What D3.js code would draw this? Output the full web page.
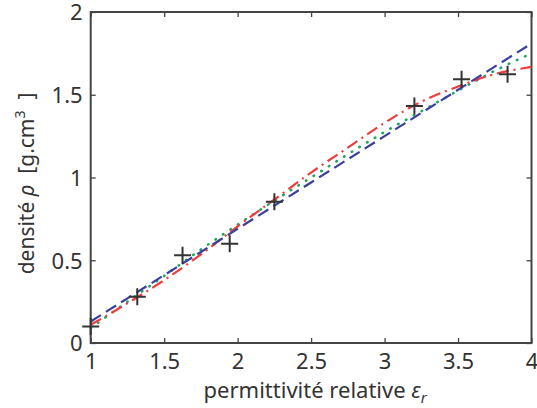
<!DOCTYPE html>
<html>
<head>
<meta charset="utf-8">
<script src="https://cdn.jsdelivr.net/npm/d3@7"></script>
<style>
  body { margin: 0; background: #fff; }
  text { font-family: "Noto Sans", sans-serif; fill: #333; white-space: pre; }
</style>
</head>
<body>
<div id="chart"></div>
<script>
// measured points (crosses)
var measX = [1.0, 1.317, 1.625, 1.946, 2.25, 3.203, 3.524, 3.837];
var measY = [0.10, 0.28, 0.53, 0.60, 0.854, 1.432, 1.593, 1.624];

// fitted curves, read at these permittivities
var fitX = [1, 1.25, 1.5, 1.75, 2, 2.25, 2.5, 2.75, 3, 3.25, 3.5, 3.75, 4];
var blueY = [0.13, 0.27, 0.41, 0.55, 0.69, 0.83, 0.97, 1.11, 1.25, 1.39, 1.53, 1.67, 1.81];
var redY = [0.11, 0.24, 0.38, 0.535, 0.705, 0.867, 1.03, 1.18, 1.33, 1.458, 1.55, 1.625, 1.668];
var greenY = [0.09, 0.25, 0.405, 0.565, 0.715, 0.86, 1.0, 1.14, 1.275, 1.40, 1.525, 1.645, 1.75];

var xTicks = [1, 1.5, 2, 2.5, 3, 3.5, 4];
var yTicks = [0, 0.5, 1, 1.5, 2];

var margin = { top: 12, right: 5.5, bottom: 65, left: 90.7 },
  width = 537 - margin.left - margin.right,
  height = 408 - margin.top - margin.bottom;

var svg = d3
  .select("#chart")
  .append("svg")
  .attr("width", 537)
  .attr("height", 408)
  .append("g")
  .attr("transform", "translate(" + margin.left + "," + margin.top + ")");

var x = d3.scaleLinear().domain([1, 4]).range([0, width]);
var y = d3.scaleLinear().domain([0, 2]).range([height, 0]);

function fmt(d) { return d3.format("")(d); }

var axColor = "#444";

var gx = svg.append("g")
  .attr("transform", "translate(0," + height + ")")
  .call(d3.axisBottom(x).tickValues(xTicks).tickFormat(fmt).tickSize(-5).tickSizeOuter(0).tickPadding(10));
var gy = svg.append("g")
  .call(d3.axisLeft(y).tickValues(yTicks).tickFormat(fmt).tickSize(-5).tickSizeOuter(0).tickPadding(8));
var gt = svg.append("g")
  .call(d3.axisTop(x).tickValues(xTicks).tickFormat("").tickSize(-5).tickSizeOuter(0));
var gr = svg.append("g")
  .attr("transform", "translate(" + width + ",0)")
  .call(d3.axisRight(y).tickValues(yTicks).tickFormat("").tickSize(-5).tickSizeOuter(0));

[gx, gy, gt, gr].forEach(function(g) {
  g.select(".domain").remove();
  g.selectAll("line").attr("stroke", axColor).attr("stroke-width", 1.3);
  g.selectAll("text").attr("font-size", 22).attr("fill", "#333")
    .style("font-family", "'Noto Sans', sans-serif");
});
gy.selectAll("text").attr("dy", "0.36em");

svg.append("rect")
  .attr("width", width)
  .attr("height", height)
  .attr("fill", "none")
  .attr("stroke", axColor)
  .attr("stroke-width", 2);

var line = function(ys) {
  return d3.line()
    .curve(d3.curveMonotoneX)
    .x(function(d, i) { return x(fitX[i]); })
    .y(function(d) { return y(d); })(ys);
};

var series = [
  { ys: greenY, color: "#1aa860", dash: "0.5,8.5", cap: "round", w: 2.6 },
  { ys: redY, color: "#ee3b3b", dash: "12,5,2,5", cap: "butt", w: 2.2 },
  { ys: blueY, color: "#3c3f9e", dash: "12,6", cap: "butt", w: 2.2 }
];
series.forEach(function(s) {
  svg.append("path")
    .attr("d", line(s.ys))
    .attr("fill", "none")
    .attr("stroke", s.color)
    .attr("stroke-width", s.w)
    .attr("stroke-linecap", s.cap)
    .attr("stroke-dasharray", s.dash);
});

// crosses
var arm = 8.5;
svg.selectAll(".cross")
  .data(measX)
  .enter()
  .append("path")
  .attr("class", "cross")
  .attr("d", function(d, i) {
    var cx = x(d), cy = y(measY[i]);
    return "M" + (cx - arm) + "," + cy + "H" + (cx + arm) +
      "M" + cx + "," + (cy - arm) + "V" + (cy + arm);
  })
  .attr("stroke", "#333")
  .attr("stroke-width", 2);

// axis labels
var xl = svg.append("text")
  .attr("x", width / 2 + 4)
  .attr("y", height + 55)
  .attr("text-anchor", "middle")
  .attr("font-size", 22);
xl.append("tspan").text("permittivité relative ");
xl.append("tspan").attr("font-style", "italic").text("ε");
xl.append("tspan").attr("font-style", "italic").attr("font-size", 15).attr("dy", 5).text("r");

var yl = svg.append("text")
  .attr("transform", "translate(" + (-57) + "," + (height / 2 + 6) + ") rotate(-90)")
  .attr("text-anchor", "middle")
  .attr("font-size", 21);
yl.append("tspan").text("densité ");
yl.append("tspan").attr("font-style", "italic").text("ρ");
yl.append("tspan").text("  [g.cm");
yl.append("tspan").attr("font-size", 14).attr("dy", -9).text("3");
yl.append("tspan").attr("dy", 9).text("  ]");
</script>
</body>
</html>
